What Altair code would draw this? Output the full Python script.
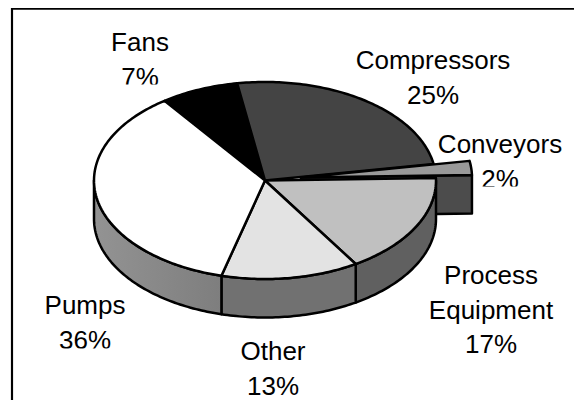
import math
import altair as alt

# Data
categories = ["Fans", "Compressors", "Conveyors", "Process Equipment", "Other", "Pumps"]
shares = [7.4, 24.9, 2.3, 16.5, 13.0, 35.9]
share_labels = ["7%", "25%", "2%", "17%", "13%", "36%"]
top_colors = ["#000000", "#444444", "#999999", "#c0c0c0", "#e3e3e3", "#ffffff"]
wall_colors = ["#000000", "#222222", "#4c4c4c", "#606060", "#717171", "#808080"]

FRAME_W = 574
FRAME_H = 398
# The page shrinks a 574px wide drawing to the 566px body and centres it vertically,
# so sizes are scaled up and moved to land on the wanted page pixels.
K = 574 / 566
OX = 8
OY = 8 + FRAME_H * (1 - 1 / K) / 2


def px(x):
    return (x - OX) * K


def py(y):
    return (y - OY) * K


# Pie layout (page pixels)
CX, CY, RX, RY, DEPTH = 265, 180.5, 171, 98.5, 38.5
START = 126.0
EXPLODE = {"Conveyors": (36, -3)}
STROKE = 2.5 * K


def pt(a, ox=0, oy=0, drop=0):
    r = math.radians(a)
    return [CX + ox + RX * math.cos(r), CY + oy - RY * math.sin(r) + drop]


def arc(a0, a1, ox=0, oy=0, drop=0):
    n = max(2, int(abs(a1 - a0)) + 1)
    return [pt(a0 + (a1 - a0) * i / (n - 1), ox, oy, drop) for i in range(n)]


def poly(ring):
    ring = ring + [ring[0]]
    return {"type": "Feature", "properties": {},
            "geometry": {"type": "Polygon", "coordinates": [ring]}}


projection = alt.Projection(type="identity", scale=K, translate=[-OX * K, -OY * K])


def shape(feature, fill):
    return alt.Chart(alt.Data(values=[feature])).mark_geoshape(
        fill=fill, stroke="#000000", strokeWidth=STROKE, strokeJoin="round"
    ).project(**projection.to_dict())


# angles walking clockwise from START
bounds = []
a = START
for s in shares:
    bounds.append((a, a - s * 3.6))
    a -= s * 3.6

back, walls, tops, front = [], [], [], []
for name, (a0, a1), top, wall in zip(categories, bounds, top_colors, wall_colors):
    ox, oy = EXPLODE.get(name, (0, 0))
    apex = [CX + ox, CY + oy]
    wedge = poly([apex] + arc(a0, a1, ox, oy))
    if name in EXPLODE:
        # the cut face of the pulled-out slice
        face = poly([apex, pt(a1, ox, oy), pt(a1, ox, oy, DEPTH), [apex[0], apex[1] + DEPTH]])
        back.append(shape(face, wall))
        front.append(shape(wedge, top))
        continue
    lo, hi = max(a1, -180), min(a0, 0)
    if hi > lo:
        ring = arc(hi, lo) + arc(lo, hi, drop=DEPTH)
        fill = wall
        if name == "Pumps":
            fill = alt.Gradient(gradient="linear", x1=1, x2=0, y1=0, y2=0, stops=[
                alt.GradientStop(color="#7e7e7e", offset=0),
                alt.GradientStop(color="#939393", offset=1),
            ])
        walls.append(shape(poly(ring), fill))
    tops.append(shape(wedge, top))

# Label layout: centre x and first baseline, in page pixels
label_lines = {
    "Fans": ["Fans"],
    "Compressors": ["Compressors"],
    "Conveyors": ["Conveyors"],
    "Process Equipment": ["Process", "Equipment"],
    "Other": ["Other"],
    "Pumps": ["Pumps"],
}
label_pos = {
    "Fans": (140, 51),
    "Compressors": (433, 69),
    "Conveyors": (500, 153),
    "Process Equipment": (491, 284),
    "Other": (273, 360),
    "Pumps": (85, 314),
}
texts = []
for name, pct in zip(categories, share_labels):
    x, y = label_pos[name]
    content = "\n".join(label_lines[name] + [pct])
    texts.append(alt.Chart(alt.Data(values=[{"t": content}])).mark_text(
        font="Liberation Sans", fontSize=26 * K, color="#000000", align="center",
        baseline="alphabetic", lineBreak="\n", lineHeight=34.5 * K,
    ).encode(text="t:N", x=alt.value(px(x)), y=alt.value(py(y))))

# Excel's label boxes cut the last line short (page pixels)
mask_boxes = [(100, 84.5, 170, 98), (40, 348.5, 125, 360), (470, 186.5, 530, 198)]
masks = [alt.Chart(alt.Data(values=[{"k": 1}])).mark_rect(fill="#ffffff", stroke=None).encode(
    x=alt.value(px(x0)), x2=alt.value(px(x1)),
    y=alt.value(py(y0)), y2=alt.value(py(y1)))
    for x0, y0, x1, y1 in mask_boxes]

frame_left = alt.Chart(alt.Data(values=[{"k": 1}])).mark_rule(color="#000000", strokeWidth=2.2).encode(
    x=alt.value(px(12)), y=alt.value(py(7)), y2=alt.value(py(402)))
frame_top = alt.Chart(alt.Data(values=[{"k": 1}])).mark_rule(color="#000000", strokeWidth=2.2).encode(
    x=alt.value(px(11)), x2=alt.value(px(584)), y=alt.value(py(8.6)))

chart = alt.layer(
    frame_left, frame_top, *texts, *masks, *back, *walls, *tops, *front
).properties(
    width=FRAME_W, height=FRAME_H, padding=0, background="#ffffff",
    autosize=alt.AutoSizeParams(type="none"),
).configure_view(stroke=None)

chart.save("out.html", embed_options={"renderer": "svg", "actions": False})
